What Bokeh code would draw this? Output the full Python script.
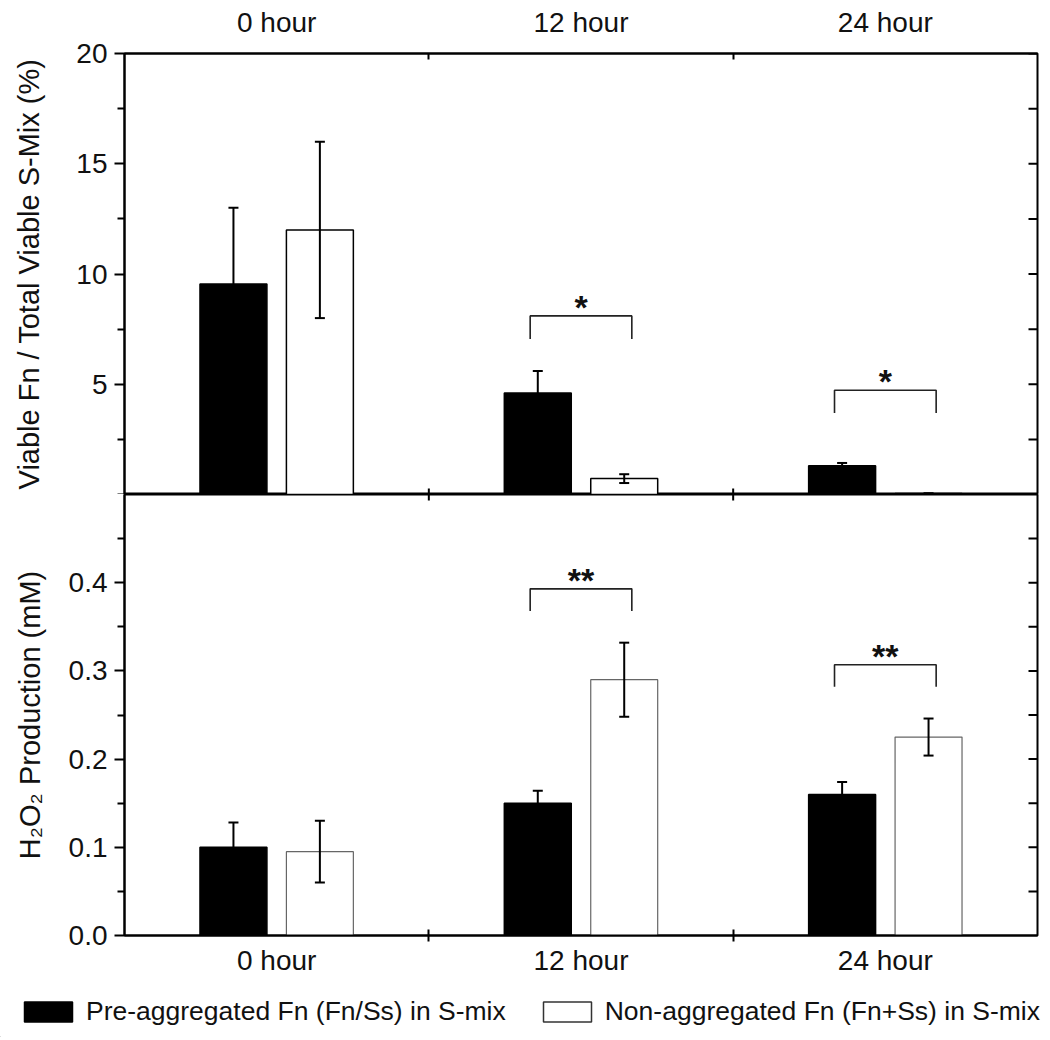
import math
from bokeh.plotting import figure
from bokeh.models import (ColumnDataSource, Range1d, LinearAxis, FixedTicker,
                          Whisker, TeeHead, Legend, LegendItem, NumeralTickFormatter)
from bokeh.layouts import column
from bokeh.core.properties import value
from bokeh.embed import file_html
from bokeh.resources import INLINE

# ---------------- data ----------------
hours = ["0 hour", "12 hour", "24 hour"]
group_pos = [0.5, 1.5, 2.5]
group_bounds = [1, 2]

viable_pre = [9.55, 4.6, 1.3]
viable_pre_err = [3.45, 1.0, 0.13]
viable_non = [12.0, 0.72, 0.04]
viable_non_err = [4.0, 0.2, 0.02]

h2o2_pre = [0.100, 0.150, 0.160]
h2o2_pre_err = [0.028, 0.014, 0.014]
h2o2_non = [0.095, 0.290, 0.225]
h2o2_non_err = [0.035, 0.042, 0.021]

viable_sig_group = [1, 2]
viable_sig_top = [8.1, 4.73]
viable_sig_bottom = [7.05, 3.7]
viable_sig_label = ["*", "*"]

h2o2_sig_group = [1, 2]
h2o2_sig_top = [0.393, 0.307]
h2o2_sig_bottom = [0.368, 0.282]
h2o2_sig_label = ["**", "**"]

viable_ticks = [5, 10, 15, 20]
viable_minor = [0, 2.5, 7.5, 12.5, 17.5]
h2o2_ticks = [0.0, 0.1, 0.2, 0.3, 0.4]
h2o2_minor = [0.05, 0.15, 0.25, 0.35, 0.45]

legend_pre = "Pre-aggregated Fn (Fn/Ss) in S-mix"
legend_non = "Non-aggregated Fn (Fn+Ss) in S-mix"
ylabel_top = "Viable Fn / Total Viable S-Mix (%)"
ylabel_bottom = "H\u2082O\u2082 Production (mM)"

# ---------------- style ----------------
FONT = "Liberation Sans"
OFFSET = 0.142
BAR_W = 0.22
HALF_BRACKET = 0.167
W = 1042
FRAME_H = 441
LEFT = 124

x_range = Range1d(0, 3)


def base_fig(height, y_range, top_border, bottom_border):
    p = figure(width=W, height=height, x_range=x_range, y_range=y_range,
               output_backend="svg", toolbar_location=None,
               x_axis_location=None, y_axis_location=None,
               min_border_left=LEFT, min_border_right=5,
               min_border_top=top_border, min_border_bottom=bottom_border)
    p.xgrid.visible = False
    p.ygrid.visible = False
    p.outline_line_color = "black"
    p.outline_line_width = 2
    p.background_fill_color = "white"
    p.border_fill_color = "white"
    return p


def left_axis(p, ticks, minor, label, fmt=None, standoff=20):
    ax = LinearAxis(ticker=FixedTicker(ticks=ticks, minor_ticks=minor))
    if fmt is not None:
        ax.formatter = fmt
    ax.major_tick_out = 10
    ax.major_tick_in = 0
    ax.minor_tick_out = 7
    ax.minor_tick_in = 0
    ax.major_tick_line_width = 2
    ax.minor_tick_line_width = 2
    ax.axis_line_width = 2
    ax.major_label_text_font = FONT
    ax.major_label_text_font_size = "28px"
    ax.major_label_text_color = "#111111"
    ax.major_label_standoff = 7
    ax.axis_label = label
    ax.axis_label_text_font = FONT
    ax.axis_label_text_font_size = "29px"
    ax.axis_label_text_font_style = "normal"
    ax.axis_label_text_color = "#111111"
    ax.axis_label_standoff = standoff
    p.add_layout(ax, "left")


def category_x_axis(p, side, tick_in, tick_out, standoff):
    ax = LinearAxis(ticker=FixedTicker(ticks=group_pos, minor_ticks=group_bounds))
    ax.major_label_overrides = {g: h for g, h in zip(group_pos, hours)}
    ax.major_tick_line_color = None
    ax.major_tick_out = 0
    ax.major_tick_in = 0
    ax.minor_tick_in = tick_in
    ax.minor_tick_out = tick_out
    ax.minor_tick_line_width = 2
    ax.axis_line_width = 2
    ax.major_label_text_font = FONT
    ax.major_label_text_font_size = "28px"
    ax.major_label_text_color = "#111111"
    ax.major_label_standoff = standoff
    p.add_layout(ax, side)


def inner_ticks(p, ticks, minor, edge_y):
    # right-hand inward ticks: half of a dash marker centred on the right edge
    ys = list(ticks) + list(minor)
    p.scatter(x=[x_range.end] * len(ys), y=ys, marker="dash", size=18,
              line_color="black", line_width=2)
    # ticks on the shared middle line (half of a vertical dash shows)
    p.scatter(x=group_bounds, y=[edge_y] * len(group_bounds), marker="dash",
              angle=math.pi / 2, size=12, line_color="black", line_width=2)


def draw_panel(p, pre, pre_err, non, non_err, non_line_color, non_line_width,
               sig_group, sig_top, sig_bottom, sig_label, star_size):
    x_pre = [g - OFFSET for g in group_pos]
    x_non = [g + OFFSET for g in group_pos]
    p.vbar(x=x_pre, top=pre, bottom=0, width=BAR_W, fill_color="black",
           line_color="black", line_width=1.5)
    p.vbar(x=x_non, top=non, bottom=0, width=BAR_W, fill_color="white",
           line_color=non_line_color, line_width=non_line_width)
    for xs, vals, errs in ((x_pre, pre, pre_err), (x_non, non, non_err)):
        src = ColumnDataSource(dict(
            x=xs,
            upper=[v + e for v, e in zip(vals, errs)],
            lower=[v - e for v, e in zip(vals, errs)]))
        wh = Whisker(source=src, base="x", upper="upper", lower="lower",
                     line_width=2, line_color="black", level="annotation",
                     upper_head=TeeHead(size=10, line_width=2, line_color="black"),
                     lower_head=TeeHead(size=10, line_width=2, line_color="black"))
        p.add_layout(wh)
    # significance brackets
    xl = [group_pos[i] - HALF_BRACKET for i in sig_group]
    xr = [group_pos[i] + HALF_BRACKET for i in sig_group]
    xs_b = [[a, a, b, b] for a, b in zip(xl, xr)]
    ys_b = [[lo, hi, hi, lo] for lo, hi in zip(sig_bottom, sig_top)]
    p.multi_line(xs=xs_b, ys=ys_b, line_color="#222222", line_width=1.6)
    p.text(x=[group_pos[i] for i in sig_group], y=sig_top, text=sig_label,
           text_font=value(FONT), text_font_style="bold",
           text_font_size=star_size, text_align="center",
           text_baseline="alphabetic", y_offset=-9, text_color="#111111")


# ---------------- top panel ----------------
TOP_BORDER = 53
p1 = base_fig(TOP_BORDER + FRAME_H, Range1d(0, 20), TOP_BORDER, 0)
draw_panel(p1, viable_pre, viable_pre_err, viable_non, viable_non_err,
           "black", 1.5, viable_sig_group, viable_sig_top, viable_sig_bottom,
           viable_sig_label, "34px")
left_axis(p1, viable_ticks, viable_minor, ylabel_top, standoff=28)
category_x_axis(p1, "above", 6, 0, 16)
inner_ticks(p1, viable_ticks, viable_minor[1:], p1.y_range.start)

# ---------------- bottom panel ----------------
BOTTOM_BORDER = 52
p2 = base_fig(FRAME_H + BOTTOM_BORDER, Range1d(0, 0.5), 0, BOTTOM_BORDER)
draw_panel(p2, h2o2_pre, h2o2_pre_err, h2o2_non, h2o2_non_err,
           "#666666", 1.2, h2o2_sig_group, h2o2_sig_top, h2o2_sig_bottom,
           h2o2_sig_label, "34px")
left_axis(p2, h2o2_ticks, h2o2_minor, ylabel_bottom,
          fmt=NumeralTickFormatter(format="0.0"), standoff=20)
category_x_axis(p2, "below", 6, 6, 3)
inner_ticks(p2, h2o2_ticks[1:], h2o2_minor, p2.y_range.end)

# ---------------- legend strip ----------------
p3 = figure(width=W, height=50, x_range=Range1d(0, 1), y_range=Range1d(0, 1),
            output_backend="svg", toolbar_location=None,
            x_axis_location=None, y_axis_location=None, min_border=0)
p3.frame_align = False
p3.xgrid.visible = False
p3.ygrid.visible = False
p3.outline_line_color = None
# proxy bars kept far outside the visible range: they only feed the legend swatches
r_pre = p3.vbar(x=[-50], top=[-50], bottom=[-51], width=0.1,
                fill_color="black", line_color="black", line_width=1.5)
r_non = p3.vbar(x=[-50], top=[-50], bottom=[-51], width=0.1,
                fill_color="white", line_color="#333333", line_width=1.5)
legend = Legend(items=[LegendItem(label=legend_pre, renderers=[r_pre]),
                       LegendItem(label=legend_non, renderers=[r_non])],
                location=(18, 10), orientation="horizontal",
                padding=0, margin=0, spacing=31, label_standoff=8,
                glyph_width=60, glyph_height=25,
                label_text_font=FONT, label_text_font_size="26.5px",
                label_text_color="#111111",
                border_line_color=None, background_fill_alpha=0)
p3.add_layout(legend)

layout = column(p1, p2, p3, spacing=0)
open("out.html", "w").write(file_html(layout, INLINE))
